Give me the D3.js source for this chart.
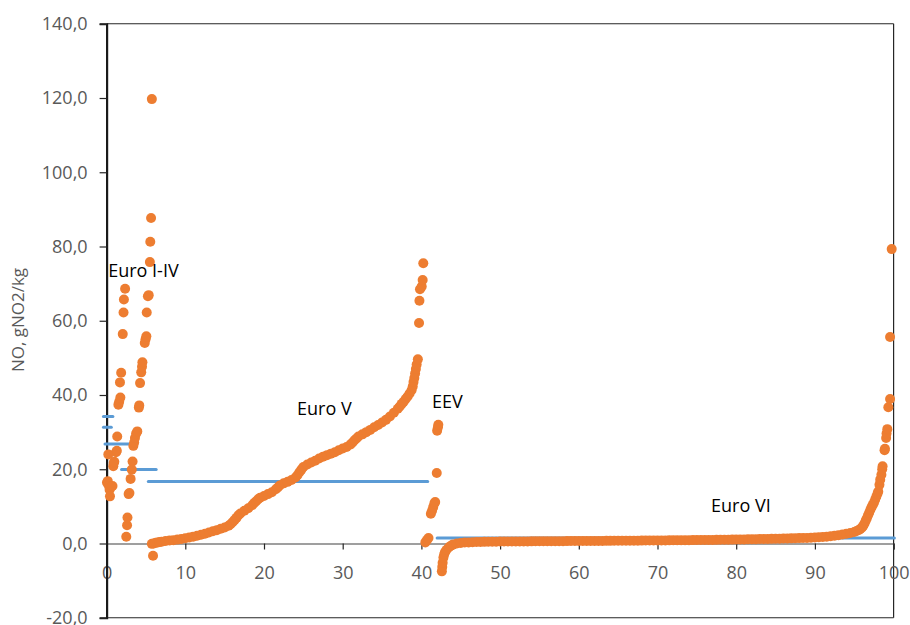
<!DOCTYPE html>
<html><head><meta charset="utf-8">
<script src="https://cdn.jsdelivr.net/npm/d3@7/dist/d3.min.js"></script>
<style>html,body{margin:0;padding:0;background:#fff;} svg{display:block;font-family:"Open Sans",sans-serif;}</style>
</head><body><svg id="chart" width="910" height="625"></svg>
<script>
// ---------- data ----------
const xTicks = [0,10,20,30,40,50,60,70,80,90,100];
const xTickLabels = ["0","10","20","30","40","50","60","70","80","90","100"];
const yTicks = [-20,0,20,40,60,80,100,120,140];
const yTickLabels = ["-20,0","0,0","20,0","40,0","60,0","80,0","100,0","120,0","140,0"];
const yAxisTitle = "NO, gNO2/kg";

const euroI_IV = [[0.05,16.4],[0.15,16.8],[0.22,24.0],[0.3,15.5],[0.38,14.5],[0.43,12.7],[0.55,15.2],[0.75,15.5],
[0.85,20.8],[0.9,21.7],[0.98,22.0],[1.2,24.6],[1.3,25.0],[1.35,28.8],[1.5,37.4],[1.6,38.2],[1.75,39.3],[1.7,43.4],[1.85,46.0],[2.05,56.4],[2.15,62.2],[2.2,65.7],[2.35,68.6],
[2.5,1.8],[2.6,4.9],[2.65,7.0],[2.8,13.3],[2.9,13.6],[3.05,17.4],[3.2,19.9],[3.3,22.1],[3.4,26.3],[3.5,27.2],[3.6,28.4],[3.75,29.6],[3.9,30.2],[4.1,36.6],[4.15,37.2],[4.25,43.2],[4.4,46.1],[4.5,47.6],[4.55,48.8],[4.85,54.0],[4.95,55.0],[5.05,55.8],[5.1,62.2],[5.25,66.6],[5.35,66.9],[5.5,75.8],[5.55,81.3],[5.65,87.7],[5.75,119.7]];

const euroV = [[5.75,-0.1],[5.9,-3.3],[6.0,0.0],[6.25,0.2],[6.5,0.3],[6.75,0.4],[7.0,0.5],[7.5,0.65],[8.0,0.8],[8.5,0.9],[9.0,1.05],[9.5,1.2],[10.0,1.4],[10.5,1.6],[11.0,1.85],[11.5,2.1],[12.0,2.35],[12.5,2.65],[13.0,2.95],[13.5,3.3],[14.0,3.6],[14.5,3.95],[15.0,4.3],[15.5,4.8],[15.75,5.2],[16.0,5.7],[16.25,6.3],[16.5,6.9],[16.75,7.6],[17.0,8.1],[17.5,8.8],[18.0,9.5],[18.5,10.3],[18.75,10.9],[19.0,11.4],[19.25,11.9],[19.5,12.3],[20.0,12.8],[20.5,13.3],[21.0,13.8],[21.5,14.6],[21.75,15.1],[22.0,15.6],[22.5,16.2],[23.0,16.6],[23.5,17.1],[24.0,17.8],[24.25,18.4],[24.5,19.2],[24.75,19.9],[25.0,20.6],[25.5,21.3],[26.0,21.8],[26.5,22.3],[27.0,22.9],[27.5,23.4],[28.0,23.8],[28.5,24.2],[29.0,24.6],[29.5,25.1],[30.0,25.6],[30.5,26.0],[31.0,26.7],[31.25,27.2],[31.5,27.8],[31.75,28.3],[32.0,28.8],[32.5,29.4],[33.0,30.0],[33.5,30.6],[34.0,31.3],[34.5,31.9],[35.0,32.6],[35.5,33.3],[36.0,34.2],[36.5,35.2],[37.0,36.3],[37.25,36.9],[37.5,37.6],[37.75,38.2],[38.0,38.9],[38.25,39.6],[38.5,40.4],[38.75,41.3],[38.9,42.3],[39.0,43.5],[39.1,44.6],[39.2,45.8],[39.3,47.0],[39.4,48.2],[39.55,49.6],[39.7,59.4],[39.75,65.4],[39.82,68.5],[40.04,69.2],[40.16,71.0],[40.24,75.5]];

const eev = [[40.5,0.3],[40.7,0.9],[40.9,1.5],[41.2,8.0],[41.35,8.8],[41.5,9.8],[41.65,10.8],[41.75,11.2],[41.95,19.0],[42.0,30.4],[42.1,31.3],[42.15,32.0]];

const euroVI = [[42.6,-7.5],[42.65,-6.3],[42.7,-5.2],[42.8,-3.8],[42.9,-2.9],[43.0,-2.3],[43.2,-1.7],[43.5,-1.0],[43.75,-0.6],[44.0,-0.3],[44.5,0.0],[45.0,0.15],[45.5,0.25],[46,0.3],[46.5,0.35],[47,0.4],
[47.5,0.42],[48,0.44],[48.5,0.46],[49,0.48],[49.5,0.5],[50,0.52],[50.5,0.53],[51,0.54],[51.5,0.55],[52,0.55],[52.5,0.56],[53,0.57],[53.5,0.57],[54,0.58],[54.5,0.59],[55,0.59],[55.5,0.6],[56,0.61],[56.5,0.61],[57,0.62],[57.5,0.63],[58,0.63],[58.5,0.64],[59,0.65],[59.5,0.65],[60,0.66],[60.5,0.67],[61,0.67],[61.5,0.68],[62,0.69],[62.5,0.69],[63,0.7],[63.5,0.71],[64,0.71],[64.5,0.72],[65,0.73],[65.5,0.74],[66,0.75],[66.5,0.75],[67,0.76],[67.5,0.77],[68,0.78],[68.5,0.79],[69,0.8],[69.5,0.81],[70,0.82],[70.5,0.83],[71,0.84],[71.5,0.85],[72,0.86],[72.5,0.87],[73,0.88],[73.5,0.89],[74,0.9],[74.5,0.91],[75,0.92],[75.5,0.93],[76,0.94],[76.5,0.95],[77,0.97],[77.5,0.98],[78,1.0],[78.5,1.02],[79,1.03],[79.5,1.05],[80,1.07],[80.5,1.09],[81,1.11],[81.5,1.13],[82,1.15],[82.5,1.17],[83,1.19],[83.5,1.21],[84,1.23],[84.5,1.25],[85,1.27],[85.5,1.3],[86,1.33],[86.5,1.36],[87,1.39],[87.5,1.42],[88,1.45],[88.5,1.48],[89,1.51],[89.5,1.55],[90,1.6],[90.5,1.67],[91,1.75],[91.5,1.85],[92,1.97],[92.5,2.1],[93,2.25],[93.5,2.43],[94,2.63],[94.5,2.85],[95,3.1],[95.3,3.35],[95.6,3.65],[95.8,3.95],[96.0,4.35],[96.15,4.8],[96.3,5.4],[96.45,6.1],[96.6,6.8],[96.75,7.6],[96.9,8.3],[97.05,9.1],[97.2,9.8],[97.35,10.4],[97.5,11.0],[97.65,11.8],[97.8,12.6],[97.95,13.4],[98.05,14.0],[98.2,15.8],[98.3,17.2],[98.45,18.5],[98.55,20.0],[98.6,20.8],[98.85,25.1],[98.9,25.5],[99.05,28.4],[99.1,29.6],[99.2,30.8],[99.33,36.7],[99.55,38.9],[99.55,55.6],[99.76,79.3]];

// mean lines: [xStart, xEnd, value]
const meanLines = [[-0.4,0.8,34.2],[-0.4,0.6,31.3],[-0.2,3.0,26.8],[1.9,6.3,19.9],[5.3,40.8,16.7],[42.0,100.1,1.5]];

// annotations: [text, x, y] in data units
const annotations = [["Euro I-IV",0.2,71.8],["Euro V",24.2,34.6],["EEV",41.35,36.6],["Euro VI",76.8,8.6]];

// ---------- chart ----------
const svg = d3.select("#chart");
const x = d3.scaleLinear().domain([0,100]).range([106.6,893.6]);
const y = d3.scaleLinear().domain([-20,140]).range([617.75,23.75]);
const orange = "#ED7D31", blue = "#5B9BD5", grey = "#595959";

// plot frame (top, right, bottom)
const frame = svg.append("g").attr("stroke","#262626").attr("stroke-width",1.2).attr("fill","none");
frame.append("line").attr("x1",x(0)).attr("x2",x(100)).attr("y1",y(140)).attr("y2",y(140));
frame.append("line").attr("x1",x(100)).attr("x2",x(100)).attr("y1",y(140)).attr("y2",y(-20));
frame.append("line").attr("x1",x(0)).attr("x2",x(100)).attr("y1",y(-20)).attr("y2",y(-20));

// x axis at y=0
const xAxis = svg.append("g").attr("transform",`translate(0,${y(0)})`)
  .call(d3.axisBottom(x).tickValues(xTicks).tickSize(6).tickPadding(17)
    .tickFormat((d,i)=>xTickLabels[i]));
xAxis.select(".domain").attr("stroke","#404040").attr("stroke-width",1.2);
xAxis.selectAll(".tick line").attr("stroke","#262626").attr("stroke-width",1.2);
xAxis.selectAll(".tick text").attr("fill",grey).style("font-size","18px").style("font-family","'Open Sans',sans-serif");

// y axis
const yAxis = svg.append("g").attr("transform",`translate(${x(0)},0)`)
  .call(d3.axisLeft(y).tickValues(yTicks).tickSize(7).tickPadding(12)
    .tickFormat((d,i)=>yTickLabels[i]));
yAxis.select(".domain").attr("stroke","#1a1a1a").attr("stroke-width",2.2);
yAxis.selectAll(".tick line").attr("stroke","#262626").attr("stroke-width",1.2);
yAxis.selectAll(".tick text").attr("fill",grey).style("font-size","18px").style("font-family","'Open Sans',sans-serif");

svg.append("text").attr("transform",`translate(24,320) rotate(-90)`)
  .attr("text-anchor","middle").attr("fill",grey).style("font-size","17px").text(yAxisTitle);

// mean lines
svg.append("g").selectAll("line").data(meanLines).join("line")
  .attr("x1",d=>x(d[0])).attr("x2",d=>x(d[1])).attr("y1",d=>y(d[2])).attr("y2",d=>y(d[2]))
  .attr("stroke",blue).attr("stroke-width",3).attr("stroke-linecap","round");

// points
const allPts = [...euroI_IV, ...euroV, ...eev, ...euroVI];
svg.append("g").selectAll("circle").data(allPts).join("circle")
  .attr("cx",d=>x(d[0])).attr("cy",d=>y(d[1])).attr("r",5).attr("fill",orange);

// annotations
svg.append("g").selectAll("text").data(annotations).join("text")
  .attr("x",d=>x(d[1])).attr("y",d=>y(d[2])).attr("fill","#000").style("font-size","18px").text(d=>d[0]);
</script></body></html>
